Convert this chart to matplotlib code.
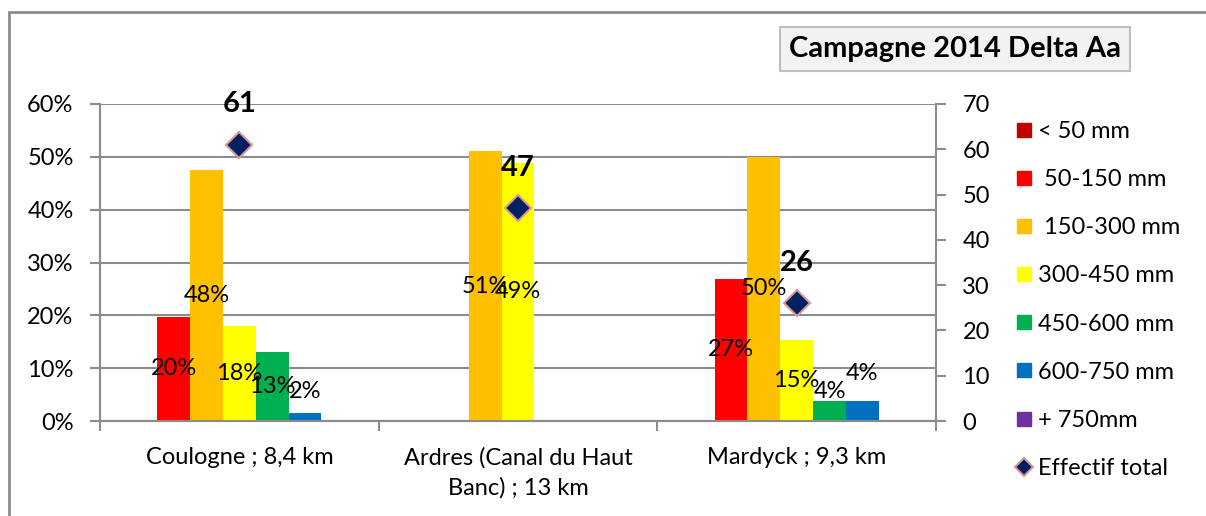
import matplotlib
matplotlib.use("Agg")
import matplotlib.pyplot as plt
import numpy as np
from matplotlib.lines import Line2D
from matplotlib.patches import Rectangle

plt.rcParams['font.family'] = ['Lato', 'DejaVu Sans']

categories = ["Coulogne ; 8,4 km", "Ardres (Canal du Haut\nBanc) ; 13 km", "Mardyck ; 9,3 km"]
series_names = ["< 50 mm", " 50-150 mm", " 150-300 mm", "300-450 mm", "450-600 mm", "600-750 mm", "+ 750mm"]
series_colors = ["#C00000", "#FF0000", "#FFC000", "#FFFF00", "#00B050", "#0070C0", "#7030A0"]
# percentages per series for each category
pct_lt50 = [0.0, 0.0, 0.0]
pct_50_150 = [19.7, 0.0, 26.9]
pct_150_300 = [47.5, 51.1, 50.0]
pct_300_450 = [18.0, 48.9, 15.4]
pct_450_600 = [13.1, 0.0, 3.8]
pct_600_750 = [1.6, 0.0, 3.8]
pct_750p = [0.0, 0.0, 0.0]
effectif_total = [61, 47, 26]
left_ticks = [0, 10, 20, 30, 40, 50, 60]
right_ticks = [0, 10, 20, 30, 40, 50, 60, 70]

series = [pct_lt50, pct_50_150, pct_150_300, pct_300_450, pct_450_600, pct_600_750, pct_750p]

W, H = 1206, 516
FS = 17
fig = plt.figure(figsize=(W / 100, H / 100), dpi=100)
ax = fig.add_axes([100 / W, (H - 421) / H, 836 / W, 317 / H])
ax2 = ax.twinx()

grid_c = "#8C8C8C"
n = len(series)
x = np.arange(len(categories))
bw = 0.825 / n
prev_small = [False] * len(categories)
for i, (vals, col) in enumerate(zip(series, series_colors)):
    pos = x + (i - (n - 1) / 2) * bw
    ax.bar(pos, vals, width=bw, color=col, zorder=3)
    for j, (p, v) in enumerate(zip(pos, vals)):
        if v > 0:
            y = max(v / 2, 5.5)
            if v < 5 and prev_small[j]:
                y += 3.5
            prev_small[j] = 0 < v < 5
            ax.text(p, y, f"{v:.0f}%", ha="center", va="center",
                    fontsize=FS, color="black", zorder=5)

ax.set_xlim(-0.5, len(categories) - 0.5)
ax.set_ylim(0, 60)
ax.set_yticks(left_ticks)
ax.set_yticklabels([f"{t}%" for t in left_ticks])
ax.yaxis.grid(True, color=grid_c, linewidth=1.5, zorder=0)
ax.set_axisbelow(True)
ax.set_xticks(x)
ax.set_xticklabels(categories, fontsize=FS, linespacing=1.45)
ax.set_xticks(np.arange(len(categories) + 1) - 0.5, minor=True)
ax.tick_params(axis="x", which="major", length=0, pad=19)
ax.tick_params(axis="x", which="minor", length=7, color=grid_c, width=1.5)
ax.tick_params(axis="y", length=7, color=grid_c, width=1.5, pad=12, labelsize=FS)

ax2.set_ylim(0, 70)
ax2.set_yticks(right_ticks)
ax2.tick_params(axis="y", length=7, color=grid_c, width=1.5, pad=12, labelsize=FS)
ax2.plot(x, effectif_total, linestyle="none", marker="D", markersize=13,
         markerfacecolor="#002060", markeredgecolor="#D99694", markeredgewidth=1.5, zorder=6)
for xi, v in zip(x, effectif_total):
    ax2.annotate(str(v), (xi, v), xytext=(0, 29), textcoords="offset points",
                 ha="center", va="center", fontsize=21, fontweight="bold")

for a in (ax, ax2):
    a.spines["top"].set_visible(False)
    for s in ("left", "right", "bottom"):
        a.spines[s].set_color(grid_c)
        a.spines[s].set_linewidth(1.5)

handles = [Line2D([], [], linestyle="none", marker="s", markersize=10,
                  markerfacecolor=c, markeredgecolor=c) for c in series_colors]
handles.append(Line2D([], [], linestyle="none", marker="D", markersize=9,
                      markerfacecolor="#002060", markeredgecolor="#D99694", markeredgewidth=1.5))
labels = series_names + ["Effectif total"]
fig.legend(handles, labels, loc="upper left", bbox_to_anchor=(1016 / W, 1 - 121 / H),
           frameon=False, fontsize=FS, labelspacing=1.15, handlelength=0.65,
           handletextpad=0.3, borderpad=0, borderaxespad=0)

fig.text(955 / W, 1 - 49 / H, "Campagne 2014 Delta Aa", ha="center", va="center",
         fontsize=21, fontweight="bold",
         bbox=dict(boxstyle="square,pad=0.3", facecolor="#F2F2F2", edgecolor="#BFBFBF", linewidth=1.5))

fig.patches.append(Rectangle((9 / W, -0.05), 1.1, 1 - 12 / H + 0.05, transform=fig.transFigure,
                             fill=False, edgecolor="#8C8C8C", linewidth=2))

fig.savefig("out.png", dpi=100)
